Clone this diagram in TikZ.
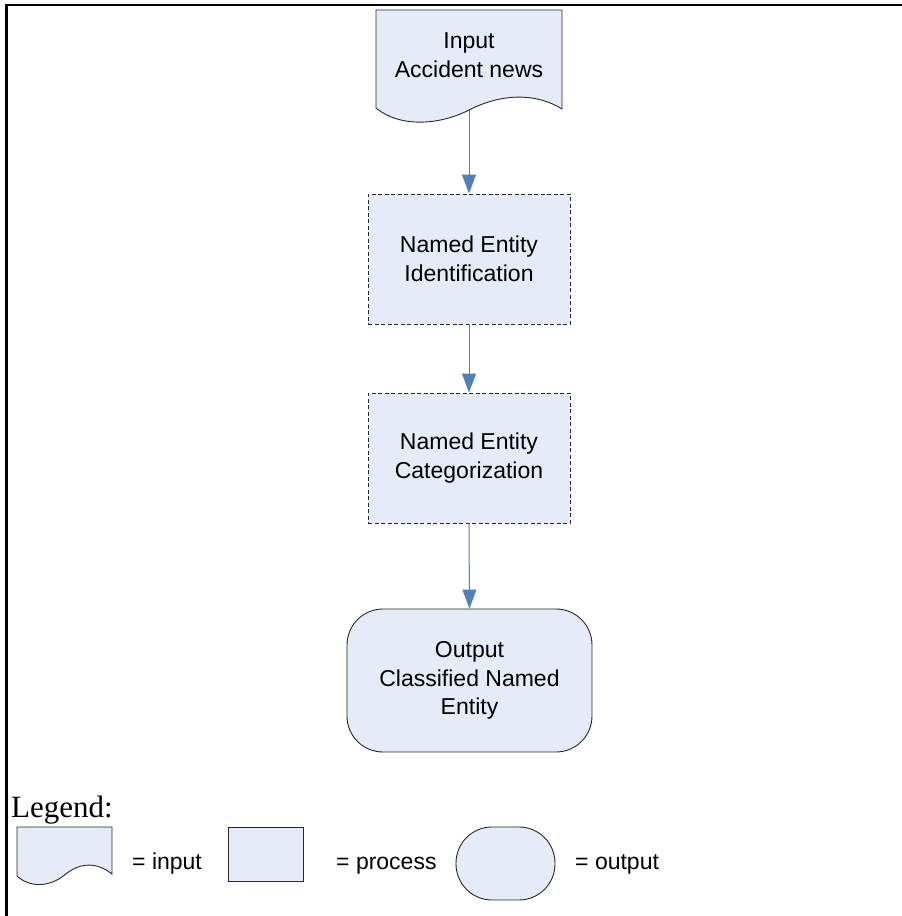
\documentclass[tikz,border=0pt]{standalone}
\usepackage{fontspec}
\setmainfont{Liberation Sans}
\newfontfamily\legendserif{Liberation Serif}
\usetikzlibrary{arrows.meta}
\definecolor{shapefill}{RGB}{230,236,247}
\definecolor{flowblue}{RGB}{79,129,189}
\definecolor{edgegray}{RGB}{40,40,40}
\newcommand\flowtext{\fontsize{23}{28.5}\selectfont}
\tikzset{
  x=1pt, y=-1pt,
  frame/.style={line width=2.2pt, black},
  docshape/.style={draw=edgegray, fill=shapefill, line width=0.9pt},
  stepbox/.style={draw=edgegray, fill=shapefill, line width=0.9pt,
    dash pattern=on 4pt off 2.5pt, minimum width=202pt, minimum height=130pt,
    inner sep=0pt, align=center, font=\flowtext},
  outbox/.style={draw=edgegray, fill=shapefill, line width=0.9pt,
    rounded corners=36pt, minimum width=245pt, minimum height=143pt,
    inner sep=0pt, align=center, font=\flowtext},
  flow/.style={draw=flowblue, line width=1pt,
    -{Triangle[length=19pt,width=14pt]}},
  label/.style={inner sep=0pt, font=\flowtext, align=center},
  legendshape/.style={draw=edgegray, fill=shapefill, line width=0.9pt}
}
\begin{document}
\begin{tikzpicture}
\useasboundingbox (0,0) rectangle (902,916);

% page frame (top and left edge)
\draw[frame] (6.5,916) -- (6.5,5) -- (902,5);

% input document
\draw[docshape] (376,10) -- (562,10) -- (562,109)
  .. controls (535,92) and (500,94) .. (469,110)
  .. controls (440,125) and (400,128) .. (376,108) -- cycle;
\node[label] (intext) at (469,55) {Input\\Accident news};
\coordinate (inbot) at (469,110);

% processing steps
\node[stepbox] (ident) at (469,259) {Named Entity\\Identification};
\node[stepbox] (categ) at (469,458) {Named Entity\\Categorization};

% output terminal
\node[outbox] (out) at (469.5,680.5) {Output\\Classified Named\\Entity};

% connectors
\draw[flow] (inbot) -- (ident.north);
\draw[flow] (ident.south) -- (categ.north);
\draw[flow] (categ.south) -- (out.north);

% legend
\node[anchor=base west, inner sep=0pt, font=\legendserif\fontsize{31}{36}\selectfont]
  (legtitle) at (11,817) {Legend:};

\draw[legendshape] (17,827) -- (112,827) -- (112,874)
  .. controls (97,862) and (80,862) .. (64.5,875)
  .. controls (50,887) and (30,888) .. (17,876) -- cycle;
\node[anchor=base west, label] (leginput) at (132,869) {= input};

\node[legendshape, minimum width=75pt, minimum height=54pt, inner sep=0pt]
  (legproc) at (265.5,854) {};
\node[anchor=base west, label] (legproctext) at (336,869) {= process};

\node[legendshape, rounded corners=36pt, minimum width=99pt, minimum height=73pt,
  inner sep=0pt] (legout) at (505.5,863.5) {};
\node[anchor=base west, label] (legouttext) at (575,869) {= output};
\end{tikzpicture}
\end{document}
